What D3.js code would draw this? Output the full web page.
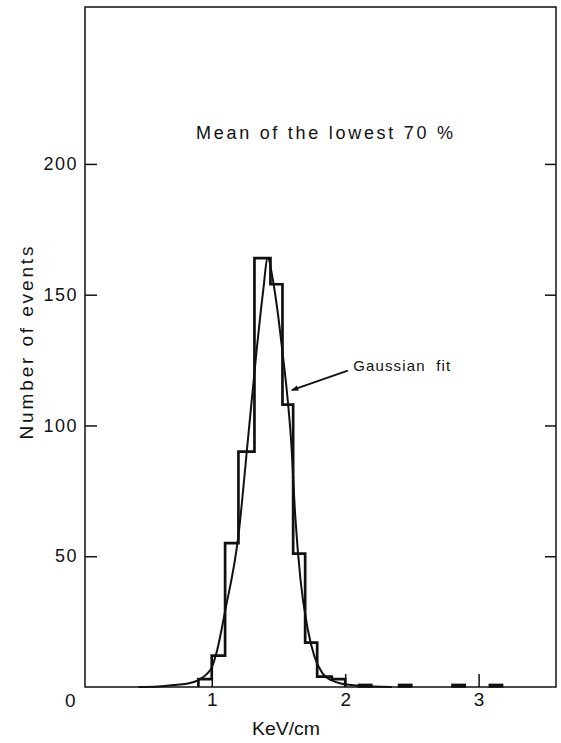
<!DOCTYPE html>
<html>
<head>
<meta charset="utf-8">
<script src="https://cdn.jsdelivr.net/npm/d3@7"></script>
<style>
  html, body { margin: 0; padding: 0; background: #fff; }
  svg { display: block; }
  text { font-family: "Liberation Sans", Arial, sans-serif; fill: #111; }
</style>
</head>
<body>
<svg id="chart" width="561" height="743"></svg>
<script>
// ---- data ----
const binEdges = [0.9, 1.0, 1.1, 1.2, 1.32, 1.44, 1.53, 1.61, 1.70, 1.79, 1.90, 2.0];
const binCounts = [3, 12, 55, 90, 164, 154, 108, 51, 17, 4, 3];
const tailStarts = [2.1, 2.4, 2.8, 3.08];
const tailEnds = [2.2, 2.5, 2.9, 3.18];
const tailCounts = [1, 1, 1, 1];
const fitX = [0.45, 0.6, 0.73, 0.83, 0.9, 0.96, 1.0, 1.04, 1.1, 1.2, 1.27, 1.333, 1.382, 1.42,
              1.457, 1.495, 1.53, 1.565, 1.595, 1.625, 1.665, 1.72, 1.77, 1.83, 1.9, 1.96, 2.1, 2.35];
const fitY = [0, 0.2, 0.8, 1.4, 2.6, 4.8, 7.5, 14, 29, 58, 94, 127, 150, 164,
              156, 143, 128, 112, 94, 66, 41, 22, 11.6, 5.2, 2.5, 1.4, 0.5, 0];
const xTickValues = [1, 2, 3];
const yTickValues = [50, 100, 150, 200];
const titleText = "Mean of the lowest 70 %";
const xLabel = "KeV/cm";
const yLabel = "Number of events";
const fitLabel = "Gaussian  fit";

// ---- layout ----
const svg = d3.select("#chart");
const L = 85, R = 556, T = 7, B = 687;
const x = d3.scaleLinear().domain([0.05, 3.58]).range([L, R]);
const y = d3.scaleLinear().domain([0, 260]).range([B, T]);

// frame
svg.append("rect")
  .attr("x", L).attr("y", T).attr("width", R - L).attr("height", B - T)
  .attr("fill", "none").attr("stroke", "#111").attr("stroke-width", 1.5);

// left axis (inward ticks, labels)
const gL = svg.append("g").attr("transform", `translate(${L},0)`)
  .call(d3.axisLeft(y).tickValues(yTickValues).tickSizeInner(-12).tickSizeOuter(0).tickPadding(7));
gL.select(".domain").remove();
gL.selectAll(".tick line").attr("stroke", "#111").attr("stroke-width", 1.5);
gL.selectAll(".tick text").attr("font-size", 18).attr("letter-spacing", 1.5)
  .attr("fill", "#111").style("font-family", "'Liberation Sans', Arial, sans-serif");

// right axis (inward ticks only)
const gR = svg.append("g").attr("transform", `translate(${R},0)`)
  .call(d3.axisRight(y).tickValues(yTickValues).tickSizeInner(-11).tickSizeOuter(0).tickFormat(""));
gR.select(".domain").remove();
gR.selectAll(".tick line").attr("stroke", "#111").attr("stroke-width", 1.5);

// bottom axis
const gB = svg.append("g").attr("transform", `translate(0,${B})`)
  .call(d3.axisBottom(x).tickValues(xTickValues).tickSizeInner(-13).tickSizeOuter(0).tickPadding(6)
        .tickFormat(d3.format("d")));
gB.select(".domain").remove();
gB.selectAll(".tick line").attr("stroke", "#111").attr("stroke-width", 1.5);
gB.selectAll(".tick text").attr("font-size", 19).attr("fill", "#111")
  .style("font-family", "'Liberation Sans', Arial, sans-serif");

// corner "0"
svg.append("text").attr("x", x(0) - 8).attr("y", B + 20)
  .attr("text-anchor", "middle").attr("font-size", 19).text("0");

// histogram step outline
const stepPts = [[binEdges[0], 0]];
binCounts.forEach((c, i) => { stepPts.push([binEdges[i], c]); stepPts.push([binEdges[i + 1], c]); });
stepPts.push([binEdges[binEdges.length - 1], 0]);
svg.append("path")
  .attr("d", d3.line().x(d => x(d[0])).y(d => y(d[1]))(stepPts))
  .attr("fill", "none").attr("stroke", "#111").attr("stroke-width", 2.7)
  .attr("stroke-linejoin", "miter");

// tail single-event bins
svg.selectAll("rect.tail").data(tailCounts).join("rect").attr("class", "tail")
  .attr("x", (d, i) => x(tailStarts[i]))
  .attr("width", (d, i) => x(tailEnds[i]) - x(tailStarts[i]))
  .attr("y", d => y(d))
  .attr("height", d => y(0) - y(d))
  .attr("fill", "#111").attr("stroke", "#111").attr("stroke-width", 1.5);

// gaussian fit curve
const fitPts = fitX.map((v, i) => [v, fitY[i]]);
svg.append("path")
  .attr("d", d3.line().curve(d3.curveMonotoneX).x(d => x(d[0])).y(d => y(d[1]))(fitPts))
  .attr("fill", "none").attr("stroke", "#111").attr("stroke-width", 2);

// title
svg.append("text").attr("x", 196).attr("y", 139)
  .attr("font-size", 18).attr("textLength", 257).attr("lengthAdjust", "spacing")
  .text(titleText);

// annotation
const defs = svg.append("defs");
defs.append("marker").attr("id", "arr").attr("viewBox", "0 0 10 10")
  .attr("refX", 9).attr("refY", 5).attr("markerWidth", 9).attr("markerHeight", 7)
  .attr("orient", "auto").attr("markerUnits", "userSpaceOnUse")
  .append("path").attr("d", "M0,1 L10,5 L0,9 Z").attr("fill", "#111");
svg.append("line")
  .attr("x1", x(2.02)).attr("y1", y(121))
  .attr("x2", x(1.6)).attr("y2", y(113.5))
  .attr("stroke", "#111").attr("stroke-width", 1.8).attr("marker-end", "url(#arr)");
svg.append("text").attr("x", x(2.06)).attr("y", y(121))
  .attr("font-size", 15).attr("textLength", 97).attr("lengthAdjust", "spacing")
  .attr("xml:space", "preserve").style("white-space", "pre")
  .text(fitLabel);

// axis titles
svg.append("text").attr("x", 252).attr("y", 735)
  .attr("font-size", 19).attr("textLength", 68).attr("lengthAdjust", "spacingAndGlyphs")
  .text(xLabel);
svg.append("text").attr("transform", "translate(33,343) rotate(-90)")
  .attr("text-anchor", "middle").attr("font-size", 19)
  .attr("textLength", 193).attr("lengthAdjust", "spacing")
  .text(yLabel);
</script>
</body>
</html>
